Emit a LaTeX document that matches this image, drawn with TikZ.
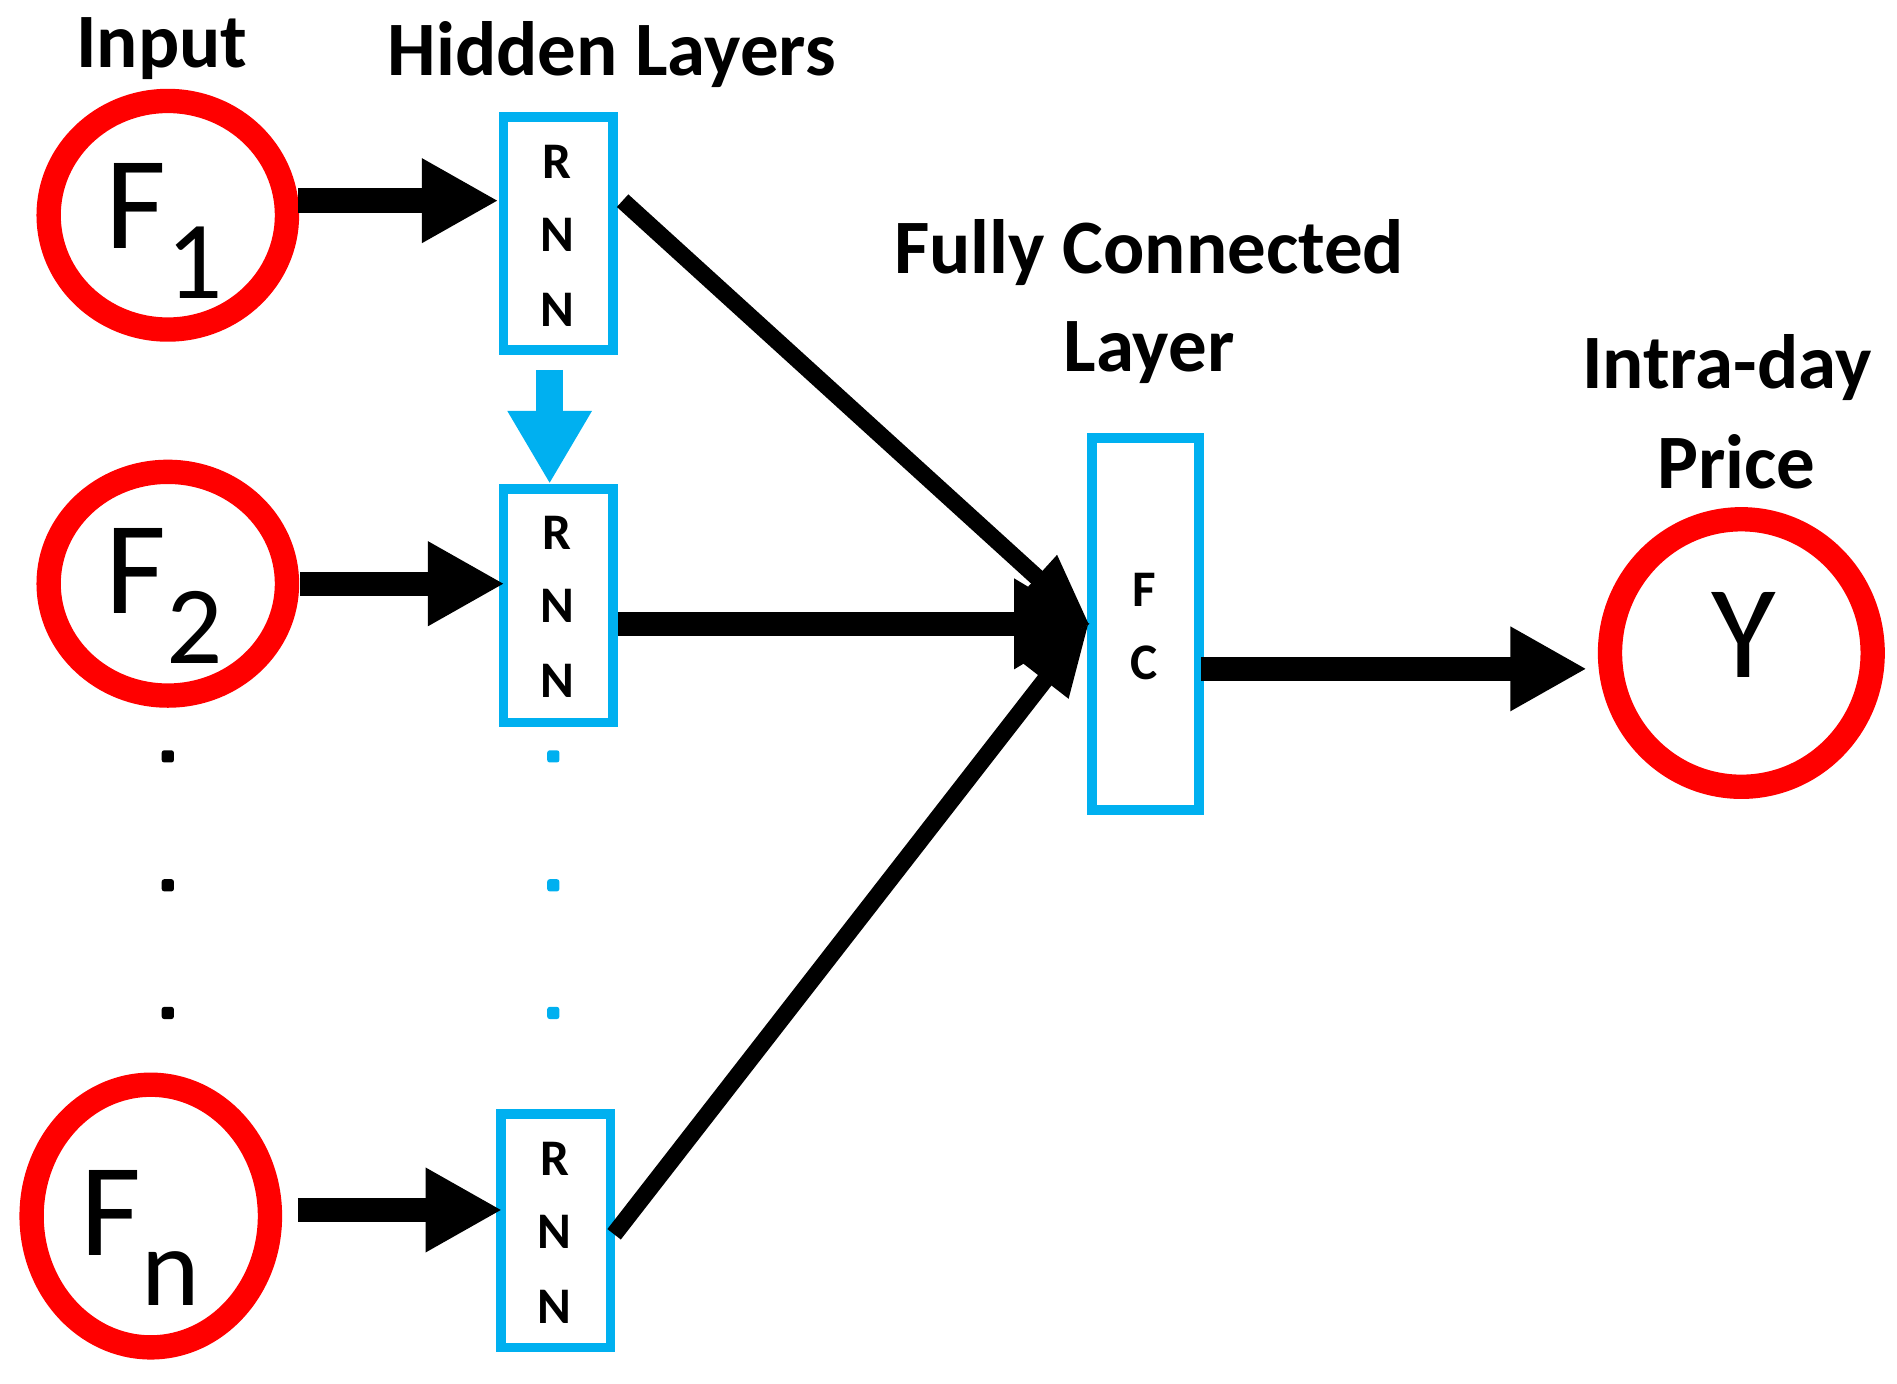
\documentclass[tikz,border=0pt]{standalone}
\usepackage{fontspec}
\setmainfont{Carlito}
\usetikzlibrary{arrows.meta}
\definecolor{cy}{HTML}{00B0F0}
\definecolor{rd}{HTML}{FF0000}
\newcommand{\fsub}[1]{\raisebox{-0.38em}{\fontsize{26}{27}\selectfont #1}}
\begin{document}
\begin{tikzpicture}[x=0.01cm,y=-0.01cm,
  inp/.style={draw=rd,line width=0.2cm},
  box/.style={draw=cy,line width=0.08cm,minimum width=0.9cm,inner sep=0pt},
  lab/.style={font=\fontsize{18}{20}\selectfont\bfseries},
  let/.style={font=\fontsize{12}{13}\selectfont\bfseries},
  big/.style={font=\fontsize{31}{32}\selectfont},
  arr/.style={line width=0.2cm,-{Triangle[length=0.63cm,width=0.65cm]}},
  thin/.style={line width=0.14cm,-{Triangle[length=0.6cm,width=0.45cm]}},
  dot/.style={fill=#1,minimum size=0.1cm,inner sep=0pt,rounded corners=0.02cm}]
\useasboundingbox (0,0) rectangle (1560,1138);
\draw[inp] (138,177) ellipse [x radius=98,y radius=94];
\draw[inp] (138,480) ellipse [x radius=98,y radius=92];
\draw[inp] (124,1000) ellipse [x radius=98,y radius=108];
\draw[inp] (1432,537) ellipse [x radius=108,y radius=110];
\coordinate (cY) at (1432,537);
\node[big] (t1) at (135,190) {F\fsub{1}};
\node[big] (t2) at (135,490) {F\fsub{2}};
\node[big] (tn) at (115,1018) {F\fsub{n}};
\node[big] (ty) at (1434,522) {Y};
\node[lab] (l0) at (133,40) {Input};
\node[lab] (l1) at (503,45) {Hidden Layers};
\node[lab] (l2) at (945,208) {Fully Connected};
\node[lab] (l3) at (945,290) {Layer};
\node[lab] (l4) at (1420,302) {Intra-day};
\node[lab] (l5) at (1428,380) {Price};
\node[box,minimum height=1.92cm] (r1) at (459,192) {};
\node[box,minimum height=1.92cm] (r2) at (459,498) {};
\node[box,minimum height=1.92cm] (rn) at (457,1012) {};
\node[box,minimum width=0.88cm,minimum height=3.06cm] (fc) at (942,513) {};
\foreach \x/\y in {458/133,458/438,456/953}{
  \node[let] at (\x,\y) {R};
  \node[let] at (\x,\y+60) {N};
  \node[let] at (\x,\y+122) {N};}
\node[let] at (941,485) {F};
\node[let] at (941,545) {C};
\coordinate (a1) at (245,165);\coordinate (a2) at (247,480);\coordinate (an) at (245,995);
\draw[arr] (a1) -- (r1.west|-a1);
\draw[arr] (a2) -- ([xshift=0.05cm]r2.west|-a2);
\draw[arr] (an) -- ([xshift=0.05cm]rn.west|-an);
\coordinate (f1) at (897,515);\coordinate (f2) at (897,513);\coordinate (f3) at (896,512);
\draw[thin] (512,165) -- (f1);
\draw[line width=0.2cm,-{Triangle[length=0.63cm,width=0.7cm]}] (r2.east|-f2) -- (f2);
\draw[thin] (505,1015) -- (f3);
\coordinate (s) at (988,550);\coordinate (e) at (1305,550);
\draw[arr] (s) -- (e);
\draw[line width=0.22cm,cy,-{Triangle[length=0.6cm,width=0.65cm]}] ([xshift=-0.07cm,yshift=-0.12cm]r1.south) -- ([xshift=-0.07cm]r2.north);
\foreach \y in {622,728,833}{
  \node[dot=black] at (138,\y) {};
  \node[dot=cy] at (455,\y) {};}
\end{tikzpicture}
\end{document}
